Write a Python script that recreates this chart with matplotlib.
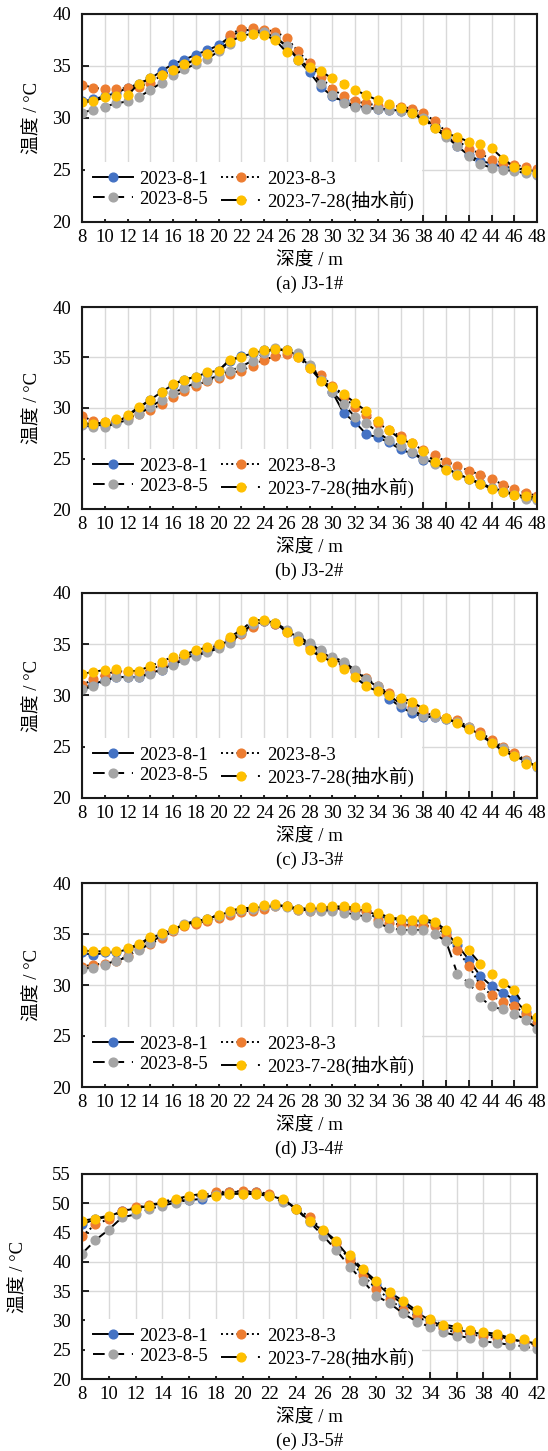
import matplotlib
matplotlib.use('Agg')
import matplotlib.pyplot as plt

plt.rcParams['font.family'] = ['Liberation Serif', 'Noto Sans CJK SC', 'DejaVu Sans']
plt.rcParams['font.size'] = 13.5

# 深度
depth_48 = list(range(8, 49))
depth_42 = list(range(8, 43))

series_labels = ['2023-8-1', '2023-8-3', '2023-8-5', '2023-7-28(抽水前)']
series_colors = ['#4472C4', '#ED7D31', '#A5A5A5', '#FFC000']
series_styles = ['-', ':', (0, (6, 4)), (0, (13, 6, 1, 6))]

# (a) J3-1#
a_81 = [31.6, 31.8, 32.1, 32.4, 32.9, 33.3, 33.8, 34.5, 35.2, 35.6, 36.1, 36.5, 37.0, 37.8, 38.4, 38.5,
        38.3, 37.7, 36.9, 35.6, 34.4, 33.0, 32.1, 31.6, 31.2, 31.0, 30.9, 30.8, 30.7, 30.5, 30.1, 29.2,
        28.4, 27.3, 26.4, 25.9, 25.6, 25.3, 25.2, 25.0, 24.9]
a_83 = [33.2, 32.9, 32.8, 32.8, 32.9, 33.0, 33.4, 34.1, 34.6, 35.1, 35.6, 36.2, 36.6, 38.0, 38.6, 38.7,
        38.5, 38.3, 37.7, 36.4, 35.3, 33.9, 32.8, 32.1, 31.6, 31.4, 31.2, 31.2, 31.1, 30.9, 30.5, 29.7,
        28.7, 27.9, 27.0, 26.6, 26.0, 25.7, 25.5, 25.3, 25.1]
a_85 = [30.5, 30.8, 31.1, 31.4, 31.6, 32.0, 32.7, 33.4, 34.1, 34.7, 35.2, 35.7, 36.4, 37.1, 37.9, 38.1,
        38.3, 37.8, 36.9, 35.7, 34.8, 33.3, 32.2, 31.4, 31.1, 30.9, 30.9, 30.8, 30.7, 30.5, 30.0, 29.0,
        28.2, 27.3, 26.3, 25.6, 25.2, 25.0, 24.9, 24.7, 24.5]
a_728 = [31.5, 31.6, 32.0, 32.1, 32.2, 33.3, 33.8, 34.1, 34.6, 35.2, 35.6, 36.2, 36.6, 37.3, 37.9, 38.1,
         38.0, 37.5, 36.3, 35.6, 34.9, 34.5, 33.8, 33.3, 32.7, 32.2, 31.7, 31.3, 31.0, 30.5, 29.8, 29.0,
         28.5, 28.2, 27.7, 27.5, 27.1, 26.1, 25.3, 25.0, 24.7]

# (b) J3-2#
b_81 = [28.5, 28.3, 28.3, 28.6, 29.2, 30.0, 30.8, 31.6, 32.3, 32.8, 33.1, 33.5, 33.7, 34.7, 35.1, 35.4,
        35.7, 35.8, 35.7, 35.2, 34.2, 32.9, 31.6, 29.5, 28.6, 27.4, 27.1, 26.6, 25.9, 25.5, 24.9, 24.6,
        24.0, 23.5, 23.0, 22.6, 22.1, 21.8, 21.5, 21.2, 21.0]
b_83 = [29.2, 28.7, 28.6, 28.8, 29.0, 29.4, 29.8, 30.4, 31.1, 31.7, 32.2, 32.7, 33.0, 33.4, 33.7, 34.2,
        34.8, 35.1, 35.3, 35.0, 34.0, 33.3, 32.2, 31.1, 30.1, 29.3, 28.5, 27.8, 27.2, 26.5, 25.8, 25.3,
        24.7, 24.3, 23.8, 23.4, 23.0, 22.4, 22.0, 21.6, 21.3]
b_85 = [28.3, 28.1, 28.1, 28.5, 28.8, 29.4, 30.1, 30.8, 31.5, 32.0, 32.5, 32.8, 33.2, 33.7, 34.1, 34.7,
        35.4, 35.9, 35.7, 35.4, 34.3, 32.8, 31.6, 30.4, 29.1, 28.5, 27.6, 26.8, 26.2, 25.6, 25.0, 24.5,
        24.0, 23.5, 23.0, 22.5, 22.1, 21.7, 21.4, 21.0, 20.9]
b_728 = [28.5, 28.4, 28.6, 28.9, 29.3, 30.1, 30.8, 31.6, 32.4, 32.8, 33.1, 33.6, 33.7, 34.8, 35.0, 35.5,
         35.7, 35.8, 35.7, 35.0, 34.0, 32.7, 32.1, 31.4, 30.5, 29.7, 28.7, 27.8, 26.9, 26.5, 25.7, 24.7,
         23.9, 23.4, 23.0, 22.5, 22.0, 21.7, 21.4, 21.3, 21.1]

# (c) J3-3#
c_81 = [30.7, 31.1, 31.5, 31.8, 31.8, 31.8, 32.2, 32.5, 33.1, 33.6, 34.0, 34.3, 34.8, 35.4, 36.2, 36.8,
        37.3, 37.0, 36.3, 35.7, 34.9, 34.3, 33.6, 33.1, 32.4, 31.6, 30.8, 29.7, 28.9, 28.3, 27.9, 27.9,
        27.7, 27.4, 26.8, 26.2, 25.5, 24.9, 24.2, 23.6, 23.1]
c_83 = [31.0, 31.6, 32.0, 32.4, 32.3, 32.2, 32.5, 33.0, 33.5, 33.8, 34.3, 34.6, 34.9, 35.5, 36.0, 36.7,
        37.3, 37.0, 36.2, 35.5, 34.6, 33.9, 33.5, 32.9, 32.4, 31.7, 30.9, 30.2, 29.6, 28.9, 28.4, 28.0,
        27.8, 27.6, 26.9, 26.4, 25.7, 25.0, 24.4, 23.7, 23.1]
c_85 = [30.6, 30.9, 31.4, 31.8, 31.8, 31.8, 32.1, 32.5, 33.0, 33.5, 33.9, 34.2, 34.6, 35.1, 36.1, 37.0,
        37.3, 37.1, 36.4, 35.8, 35.1, 34.4, 33.8, 33.3, 32.5, 31.6, 30.9, 30.0, 29.2, 28.6, 28.0, 27.9,
        27.7, 27.4, 26.9, 26.1, 25.4, 24.9, 24.1, 23.6, 23.0]
c_728 = [32.1, 32.3, 32.5, 32.6, 32.4, 32.4, 32.9, 33.3, 33.8, 34.0, 34.4, 34.7, 35.0, 35.7, 36.4, 37.3,
         37.4, 37.1, 36.2, 35.3, 34.4, 33.8, 33.3, 32.6, 31.8, 30.9, 30.4, 30.0, 29.8, 29.4, 28.7, 28.3,
         27.8, 27.3, 26.7, 26.1, 25.4, 24.6, 24.1, 23.3, 23.1]

# (d) J3-4#
d_81 = [33.2, 32.9, 33.2, 33.2, 33.5, 33.9, 34.6, 35.0, 35.4, 35.9, 36.2, 36.5, 36.8, 37.2, 37.4, 37.5,
        37.7, 37.8, 37.7, 37.5, 37.5, 37.5, 37.5, 37.5, 37.4, 37.3, 36.8, 36.5, 36.4, 36.3, 36.3, 36.0,
        35.2, 33.9, 32.5, 30.9, 29.9, 29.2, 28.6, 27.4, 26.4]
d_83 = [31.8, 32.0, 32.1, 32.4, 32.8, 33.5, 34.0, 34.6, 35.3, 35.8, 36.0, 36.3, 36.6, 36.9, 37.2, 37.3,
        37.5, 37.7, 37.7, 37.4, 37.3, 37.4, 37.5, 37.5, 37.4, 37.3, 36.4, 36.1, 35.9, 35.9, 35.8, 35.8,
        34.9, 33.4, 31.9, 30.0, 29.0, 28.3, 27.9, 27.2, 26.3]
d_85 = [31.6, 31.7, 32.0, 32.4, 32.7, 33.4, 34.1, 34.9, 35.4, 36.0, 36.3, 36.5, 36.8, 37.2, 37.4, 37.5,
        37.7, 37.7, 37.6, 37.4, 37.3, 37.3, 37.3, 37.1, 36.9, 36.7, 36.1, 35.6, 35.4, 35.4, 35.4, 35.0,
        34.3, 31.1, 30.2, 28.8, 27.9, 27.6, 27.2, 26.6, 25.7]
d_728 = [33.4, 33.3, 33.3, 33.3, 33.6, 34.0, 34.7, 35.1, 35.5, 35.9, 36.2, 36.5, 36.9, 37.3, 37.5, 37.6,
         37.8, 37.9, 37.7, 37.5, 37.6, 37.6, 37.7, 37.7, 37.6, 37.6, 37.1, 36.6, 36.5, 36.4, 36.5, 36.2,
         35.4, 34.3, 33.4, 32.1, 31.1, 30.2, 29.5, 27.7, 26.9]

# (e) J3-5#
e_81 = [46.4, 47.3, 47.7, 48.7, 49.1, 49.6, 50.0, 50.5, 50.5, 50.8, 51.6, 51.9, 52.0, 51.9, 51.4, 50.6,
        49.1, 47.0, 45.3, 43.4, 40.7, 38.4, 36.3, 34.4, 32.8, 31.4, 30.0, 29.0, 28.4, 28.0, 27.7, 27.3,
        26.8, 26.4, 26.1]
e_83 = [44.4, 46.4, 47.3, 48.7, 49.3, 49.7, 50.1, 50.6, 51.0, 51.4, 51.9, 52.0, 52.1, 52.0, 51.6, 50.6,
        49.1, 47.7, 45.3, 43.3, 40.3, 37.7, 35.4, 33.6, 31.8, 30.7, 29.6, 28.7, 27.8, 27.6, 27.3, 27.0,
        26.7, 26.4, 25.8]
e_85 = [41.4, 43.7, 45.5, 47.6, 48.1, 49.0, 49.6, 50.1, 50.6, 51.0, 51.4, 51.6, 51.6, 51.6, 51.2, 50.3,
        49.0, 46.8, 44.5, 42.0, 39.2, 36.7, 34.2, 32.9, 31.2, 29.8, 28.9, 28.0, 27.4, 27.0, 26.4, 26.2,
        25.8, 25.6, 25.1]
e_728 = [47.0, 47.4, 47.9, 48.5, 49.1, 49.6, 50.3, 50.7, 51.3, 51.6, 51.3, 51.6, 51.6, 51.6, 51.3, 50.8,
         49.1, 47.0, 45.5, 43.6, 41.1, 38.7, 36.7, 34.8, 33.3, 31.7, 30.2, 29.3, 28.9, 28.3, 28.0, 27.7,
         27.0, 26.8, 26.4]

panels = [
    ('(a) J3-1#', depth_48, [a_81, a_83, a_85, a_728], (20, 40)),
    ('(b) J3-2#', depth_48, [b_81, b_83, b_85, b_728], (20, 40)),
    ('(c) J3-3#', depth_48, [c_81, c_83, c_85, c_728], (20, 40)),
    ('(d) J3-4#', depth_48, [d_81, d_83, d_85, d_728], (20, 40)),
    ('(e) J3-5#', depth_42, [e_81, e_83, e_85, e_728], (20, 55)),
]

W, H = 548, 1451
fig = plt.figure(figsize=(W / 100, H / 100), dpi=100)

# 每个子图的像素位置 (top, bottom)
boxes = [(14, 222), (307, 509), (593, 798), (883, 1087), (1174, 1379)]
left, right = 82, 537

for i, (caption, depth, vals, ylim) in enumerate(panels):
    top, bottom = boxes[i]
    ax = fig.add_axes([left / W, (H - bottom) / H, (right - left) / W, (bottom - top) / H])
    lines = []
    for v, lab, col, ls in zip(vals, series_labels, series_colors, series_styles):
        ln, = ax.plot(depth, v, color='black', linestyle=ls, linewidth=1.4,
                      marker='o', markersize=6.3, markerfacecolor=col, markeredgecolor=col,
                      label=lab)
        lines.append(ln)
    ax.set_xlim(depth[0], depth[-1])
    ax.set_ylim(*ylim)
    ax.set_xticks(range(depth[0], depth[-1] + 1, 2))
    ax.set_yticks(range(ylim[0], ylim[1] + 1, 5))
    ax.grid(True, color='#D9D9D9', linewidth=1)
    ax.set_axisbelow(True)
    ax.tick_params(direction='in', length=5, width=1.2)
    ax.tick_params(axis='x', pad=5)
    ax.tick_params(axis='y', pad=8)
    for sp in ax.spines.values():
        sp.set_linewidth(1.5)
        sp.set_color('#1a1a1a')

    ax.set_xlabel('深度 / m')
    ax.xaxis.set_label_coords(0.5, -39 / (bottom - top))
    ax.xaxis.label.set_verticalalignment('center')
    ax.set_ylabel('温度 / °C')
    ylab_off = 63 if i == 4 else 49
    ax.yaxis.set_label_coords(-ylab_off / (right - left), 0.5)
    ax.yaxis.label.set_verticalalignment('center')

    ax.annotate(caption, xy=(0.5, 0), xycoords='axes fraction',
                xytext=(0, -62 * 0.72), textcoords='offset points',
                ha='center', va='center')

    order = [0, 2, 1, 3]
    leg = ax.legend([lines[k] for k in order], [series_labels[k] for k in order],
                    ncol=2, loc='lower left', bbox_to_anchor=(0, 0), borderaxespad=0.15,
                    frameon=True, fancybox=False, facecolor='white', edgecolor='none',
                    framealpha=1, handlelength=2.1, handletextpad=0.35,
                    columnspacing=0.7, labelspacing=0.15, borderpad=0.45)
    # 图例背景只盖住网格线, 不盖住数据
    leg.set_zorder(1.5)

fig.savefig('out.png', dpi=100)
